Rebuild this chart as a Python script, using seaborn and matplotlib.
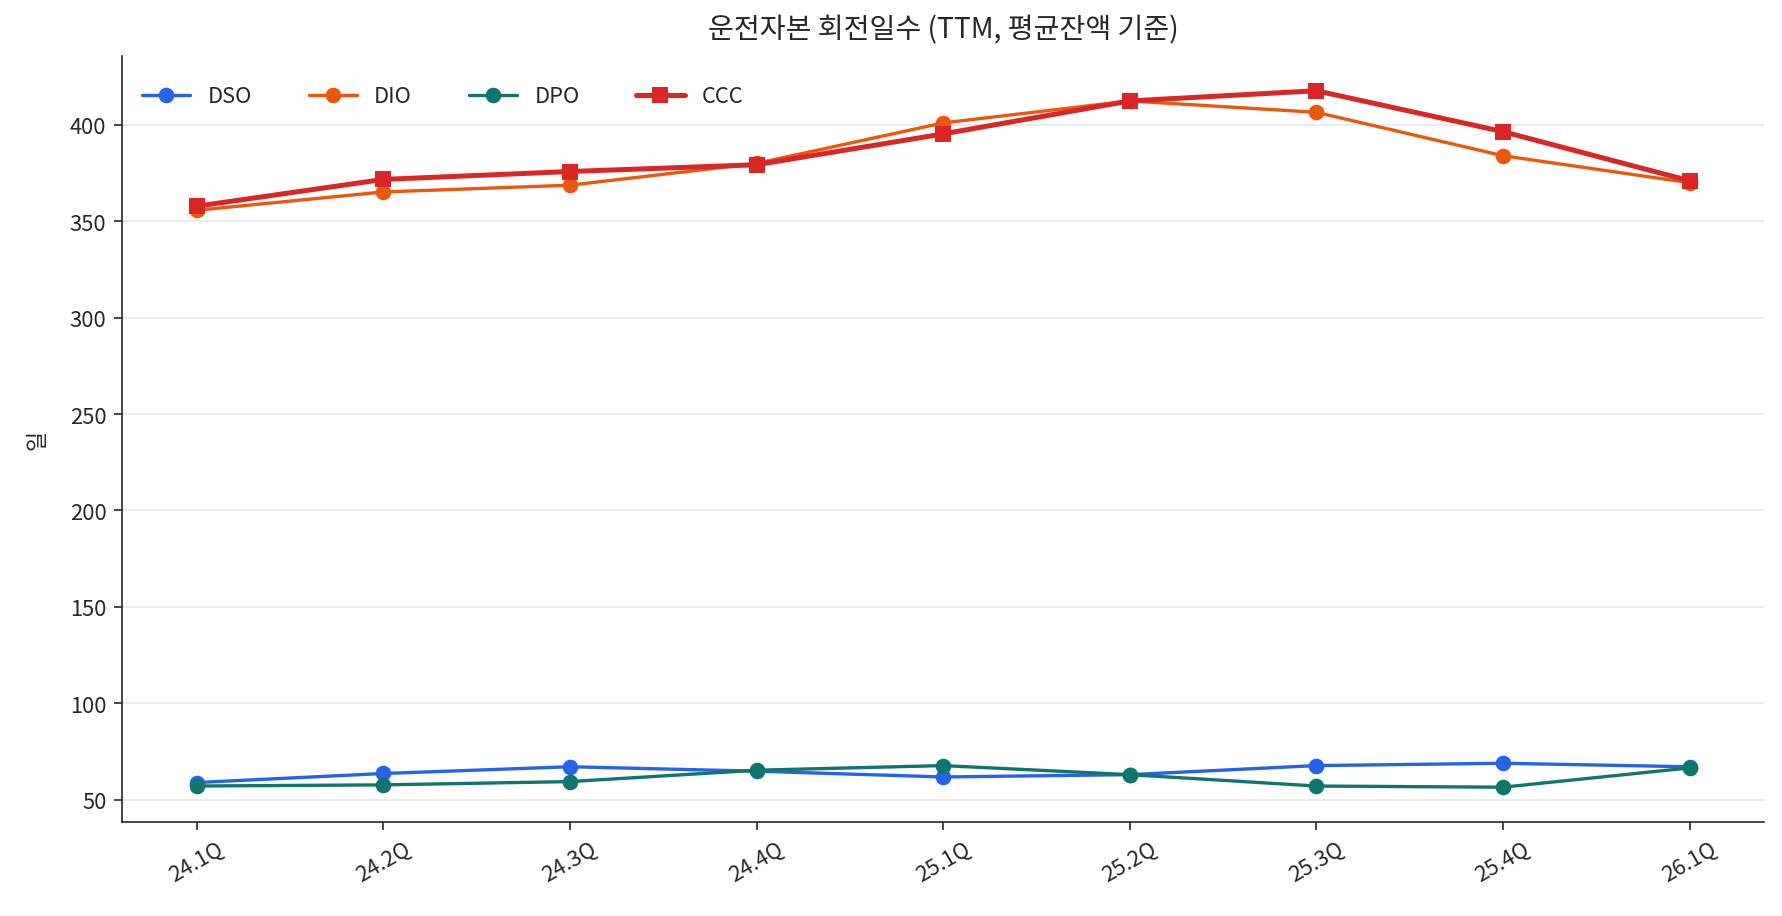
import matplotlib
matplotlib.use("Agg")
import matplotlib.pyplot as plt
import seaborn as sns
import pandas as pd

# ============================================================================
# DATA
# ============================================================================
QUARTERS = ['24.1Q', '24.2Q', '24.3Q', '24.4Q', '25.1Q', '25.2Q', '25.3Q', '25.4Q', '26.1Q']

DSO = [58.9, 63.6, 67.1, 64.8, 61.8, 63.0, 67.7, 68.9, 67.1]
DIO = [355.7, 365.2, 368.7, 380.0, 401.0, 412.4, 406.5, 384.0, 370.0]
DPO = [57.1, 57.7, 59.4, 65.3, 67.7, 63.0, 57.1, 56.5, 66.5]
CCC = [357.8, 371.7, 375.8, 379.3, 395.3, 412.4, 417.7, 396.5, 371.0]

SERIES = ['DSO', 'DIO', 'DPO', 'CCC']
COLORS = {
    'DSO': '#2563eb',
    'DIO': '#ea580c',
    'DPO': '#0f766e',
    'CCC': '#dc2626',
}

df = pd.DataFrame({
    'Quarter': QUARTERS * 4,
    'Metric': [m for m in SERIES for _ in QUARTERS],
    'Days': DSO + DIO + DPO + CCC,
})

# ============================================================================
# STYLE
# ============================================================================
sns.set_style("white")
plt.rcParams['font.family'] = ['Noto Sans CJK KR', 'DejaVu Sans']
plt.rcParams['axes.unicode_minus'] = False

fig, ax = plt.subplots(figsize=(11.88, 6.113), dpi=150)
fig.subplots_adjust(left=0.0685, right=0.99, top=0.938, bottom=0.1025)

for m in SERIES:
    sub = df[df['Metric'] == m]
    is_ccc = m == 'CCC'
    sns.lineplot(
        data=sub, x='Quarter', y='Days', ax=ax,
        color=COLORS[m], label=m,
        marker='s' if is_ccc else 'o',
        markersize=7.5,
        markeredgewidth=0,
        linewidth=2.4 if is_ccc else 1.6,
        sort=False,
    )

ax.grid(axis='y', color='#e5e7eb', linewidth=0.8)
ax.grid(axis='x', visible=False)
ax.set_axisbelow(True)
sns.despine(ax=ax)

ax.set_title('운전자본 회전일수 (TTM, 평균잔액 기준)', fontsize=13.5, pad=9)
ax.set_xlabel('')
ax.set_ylabel('일', fontsize=10.5, labelpad=10)
ax.tick_params(axis='both', labelsize=10.5, length=4, left=True, bottom=True)
plt.setp(ax.get_xticklabels(), rotation=30)

ax.legend(loc='upper left', bbox_to_anchor=(0, 0.987), ncol=4, frameon=False,
          fontsize=10.5, columnspacing=2.6, handlelength=2.2, borderaxespad=0.5)

fig.savefig('out.png', dpi=150)
